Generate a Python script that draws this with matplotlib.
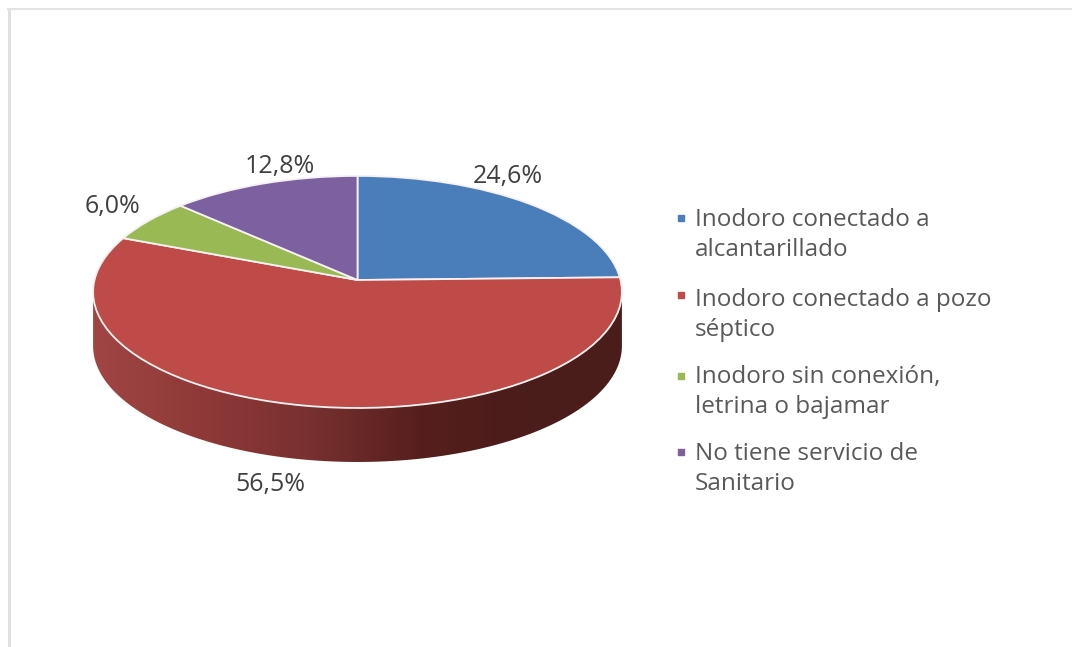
import numpy as np
import matplotlib
matplotlib.use('Agg')
import matplotlib.pyplot as plt
from matplotlib.colors import LinearSegmentedColormap
from matplotlib.patches import Polygon
from matplotlib.transforms import Transform

categories = ['Inodoro conectado a\nalcantarillado',
              'Inodoro conectado a pozo\nséptico',
              'Inodoro sin conexión,\nletrina o bajamar',
              'No tiene servicio de\nSanitario']
values = [24.6, 56.5, 6.0, 12.8]
colors = ['#4a7ebb', '#be4b48', '#98b954', '#7d60a0']
side_colors = ['#a04644', '#8f3a38', '#783030', '#561f1d', '#4a1c1a']

plt.rcParams['font.family'] = ['Open Sans', 'DejaVu Sans']

# pie centre in pixels, and the tilt of the disc
cx, cy = 357.5, 280
sx, sy, tilt = 263, 114.8, 0.103
depth = 54


class Tilted(Transform):
    # projects the flat unit pie onto the tilted disc
    input_dims = 2
    output_dims = 2

    def transform_non_affine(self, xy):
        xy = np.asarray(xy, dtype=float)
        w = 1 + tilt * xy[:, 1]
        return np.column_stack([cx + sx * xy[:, 0] / w, cy - sy * xy[:, 1] / w])


fig = plt.figure(figsize=(10.72, 6.47), dpi=100)
ax = fig.add_axes([0, 0, 1, 1])
tilted = Tilted()

# Side of the disc
theta = np.radians(np.linspace(-6, -174, 200))
rim = tilted.transform_non_affine(np.column_stack([np.cos(theta), np.sin(theta)]))
outline = np.vstack([rim + [0, depth], rim[::-1]])
side = Polygon(outline, closed=True, transform=ax.transData, facecolor='none', edgecolor='none')
ax.add_patch(side)
side_cmap = LinearSegmentedColormap.from_list('side', side_colors)
gradient = ax.imshow(np.linspace(0, 1, 256).reshape(1, -1), cmap=side_cmap, aspect='auto',
                     extent=(90, 530, 480, 270), zorder=1)
edge = ax.imshow(np.zeros((1, 2)), cmap=LinearSegmentedColormap.from_list('end', side_colors[-1:] * 2), aspect='auto',
                 extent=(530, 630, 480, 270), zorder=1)
gradient.set_clip_path(side)
edge.set_clip_path(side)

# Top of the disc
wedges, _ = ax.pie(values, colors=colors, startangle=90, counterclock=False,
                   wedgeprops={'edgecolor': '#f6f2f2', 'linewidth': 1.3})
for w in wedges:
    w.set_transform(tilted + ax.transData)
    w.set_zorder(2)

# Percentage labels
label_pos = [(508, 177), (270, 485), (113, 207), (280, 167)]
for v, (lx, ly) in zip(values, label_pos):
    ax.text(lx, ly, f'{v:.1f}%'.replace('.', ','), ha='center', va='center',
            fontsize=18, color='#404040', zorder=3)

# Legend
legend_y = [218, 295, 376, 452]
text_y = [235, 315, 392, 469]
for name, col, my, ty in zip(categories, colors, legend_y, text_y):
    ax.plot([681], [my], marker='s', markersize=5, color=col, linestyle='none', zorder=3)
    ax.text(695, ty, name, ha='left', va='center', fontsize=17.5, color='#595959',
            linespacing=1.35, zorder=3)

# Frame of the picture
ax.plot([8.5, 8.5], [8, 647], color='#e0e0e0', linewidth=2.2, solid_capstyle='butt', zorder=0)
ax.plot([7, 1072], [9, 9], color='#e4e4e4', linewidth=1.5, solid_capstyle='butt', zorder=0)

ax.set_xlim(0, 1072)
ax.set_ylim(647, 0)
ax.set_aspect('auto')
ax.axis('off')

plt.savefig('out.png', dpi=100)
